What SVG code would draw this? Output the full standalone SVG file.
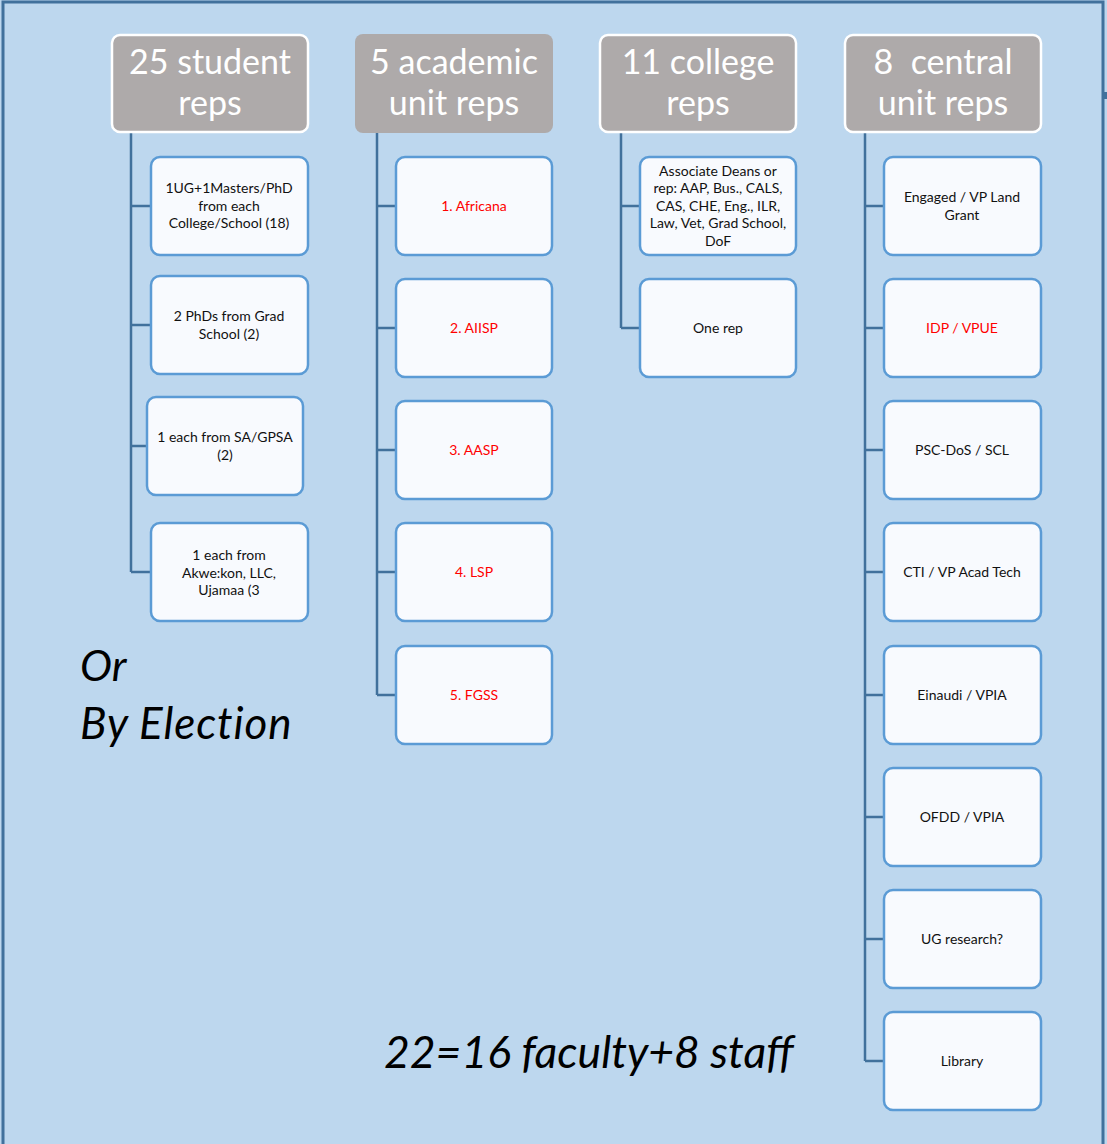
<svg xmlns="http://www.w3.org/2000/svg" width="1107" height="1144" viewBox="0 0 1107 1144">
<style>
.hdr{fill:#AEAAAA;stroke:#FFFFFF;stroke-width:2.5}
.hdr2{fill:#AEAAAA;stroke:none}
.ht{font-family:Lato,"Liberation Sans",sans-serif;font-size:34px;fill:#FFFFFF;text-anchor:middle}
.box{fill:#F8FAFE;stroke:#5B9BD5;stroke-width:2.5}
.t{font-family:Lato,"Liberation Sans",sans-serif;font-size:14px;fill:#111111;text-anchor:middle}
.r{fill:#FF0000}
.c{fill:none;stroke:#41719C;stroke-width:2.5}
.it{font-family:Lato,"Liberation Sans",sans-serif;font-style:italic;fill:#000000}
</style>
<rect x="0" y="0" width="1107" height="1144" fill="#BDD7EE"/>
<rect x="3" y="2" width="1100" height="1150" fill="none" stroke="#41719C" stroke-width="3"/>
<rect x="1103" y="92" width="4" height="7" fill="#41719C"/>
<g id="connectors">
<path class="c" d="M131 132V572M131 206H151M131 325H151M131 446H147M131 572H151"/>
<path class="c" d="M377 132V695M377 206H396M377 328H396M377 450H396M377 572H396M377 695H396"/>
<path class="c" d="M621 132V328M621 206H640M621 328H640"/>
<path class="c" d="M865 132V1061M865 206H884M865 328H884M865 450H884M865 572H884M865 695H884M865 817H884M865 939H884M865 1061H884"/>
</g>
<g id="h1"><rect class="hdr" x="112" y="35" width="196" height="97" rx="8"/><text class="ht" x="210" y="74">25 student</text><text class="ht" x="210" y="115">reps</text></g>
<g id="h2"><rect class="hdr2" x="355" y="34" width="198" height="99" rx="8"/><text class="ht" x="454" y="74">5 academic</text><text class="ht" x="454" y="115">unit reps</text></g>
<g id="h3"><rect class="hdr" x="600" y="35" width="196" height="97" rx="8"/><text class="ht" x="698" y="74">11 college</text><text class="ht" x="698" y="115">reps</text></g>
<g id="h4"><rect class="hdr" x="845" y="35" width="196" height="97" rx="8"/><text class="ht" x="943" y="74" xml:space="preserve">8  central</text><text class="ht" x="943" y="115">unit reps</text></g>

<g id="s1"><rect class="box" x="151" y="157" width="157" height="98" rx="9"/><text class="t" x="229" y="193">1UG+1Masters/PhD</text><text class="t" x="229" y="211">from each</text><text class="t" x="229" y="228">College/School (18)</text></g>
<g id="s2"><rect class="box" x="151" y="276" width="157" height="98" rx="9"/><text class="t" x="229" y="321">2 PhDs from Grad</text><text class="t" x="229" y="339">School (2)</text></g>
<g id="s3"><rect class="box" x="147" y="397" width="156" height="98" rx="9"/><text class="t" x="225" y="442">1 each from SA/GPSA</text><text class="t" x="225" y="460">(2)</text></g>
<g id="s4"><rect class="box" x="151" y="523" width="157" height="98" rx="9"/><text class="t" x="229" y="560">1 each from</text><text class="t" x="229" y="578">Akwe:kon, LLC,</text><text class="t" x="229" y="595">Ujamaa (3</text></g>

<g id="a1"><rect class="box" x="396" y="157" width="156" height="98" rx="9"/><text class="t r" x="474" y="211">1. Africana</text></g>
<g id="a2"><rect class="box" x="396" y="279" width="156" height="98" rx="9"/><text class="t r" x="474" y="333">2. AIISP</text></g>
<g id="a3"><rect class="box" x="396" y="401" width="156" height="98" rx="9"/><text class="t r" x="474" y="455">3. AASP</text></g>
<g id="a4"><rect class="box" x="396" y="523" width="156" height="98" rx="9"/><text class="t r" x="474" y="577">4. LSP</text></g>
<g id="a5"><rect class="box" x="396" y="646" width="156" height="98" rx="9"/><text class="t r" x="474" y="700">5. FGSS</text></g>

<g id="c1"><rect class="box" x="640" y="157" width="156" height="98" rx="9"/><text class="t" x="718" y="176">Associate Deans or</text><text class="t" x="718" y="193">rep: AAP, Bus., CALS,</text><text class="t" x="718" y="211">CAS, CHE, Eng., ILR,</text><text class="t" x="718" y="228">Law, Vet, Grad School,</text><text class="t" x="718" y="246">DoF</text></g>
<g id="c2"><rect class="box" x="640" y="279" width="156" height="98" rx="9"/><text class="t" x="718" y="333">One rep</text></g>

<g id="u1"><rect class="box" x="884" y="157" width="157" height="98" rx="9"/><text class="t" x="962" y="202">Engaged / VP Land</text><text class="t" x="962" y="220">Grant</text></g>
<g id="u2"><rect class="box" x="884" y="279" width="157" height="98" rx="9"/><text class="t r" x="962" y="333">IDP / VPUE</text></g>
<g id="u3"><rect class="box" x="884" y="401" width="157" height="98" rx="9"/><text class="t" x="962" y="455">PSC-DoS / SCL</text></g>
<g id="u4"><rect class="box" x="884" y="523" width="157" height="98" rx="9"/><text class="t" x="962" y="577">CTI / VP Acad Tech</text></g>
<g id="u5"><rect class="box" x="884" y="646" width="157" height="98" rx="9"/><text class="t" x="962" y="700">Einaudi / VPIA</text></g>
<g id="u6"><rect class="box" x="884" y="768" width="157" height="98" rx="9"/><text class="t" x="962" y="822">OFDD / VPIA</text></g>
<g id="u7"><rect class="box" x="884" y="890" width="157" height="98" rx="9"/><text class="t" x="962" y="944">UG research?</text></g>
<g id="u8"><rect class="box" x="884" y="1012" width="157" height="98" rx="9"/><text class="t" x="962" y="1066">Library</text></g>

<text class="it" x="80" y="681" font-size="43">Or</text>
<text class="it" x="80" y="739" font-size="44" letter-spacing="0.9">By Election</text>
<text class="it" x="384" y="1068" font-size="44.5">22=16 faculty+8 staff</text>
</svg>
